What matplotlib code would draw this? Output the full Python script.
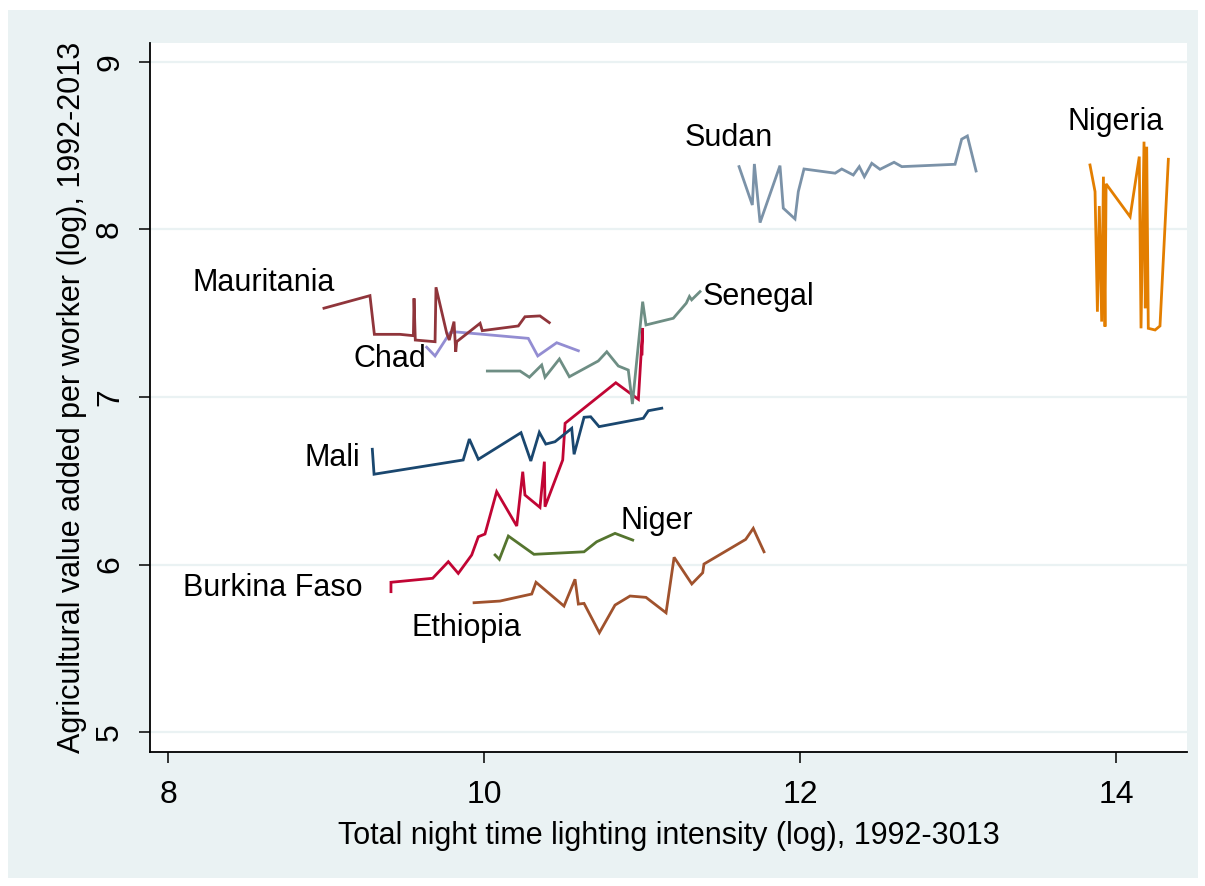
import matplotlib
matplotlib.use("Agg")
import matplotlib.pyplot as plt
from matplotlib.patches import Rectangle

plt.rcParams["font.family"] = ["Liberation Sans", "DejaVu Sans"]

BG = "#EAF2F3"

# series: (log lights, log ag value added per worker)
mauritania_x = [8.987, 9.278, 9.306, 9.468, 9.553, 9.557, 9.565, 9.690, 9.696, 9.764,
                9.780, 9.810, 9.821, 9.827, 9.975, 9.989, 10.217, 10.259, 10.354, 10.413]
mauritania_y = [7.530, 7.605, 7.374, 7.374, 7.366, 7.589, 7.340, 7.330, 7.655, 7.380,
                7.340, 7.450, 7.270, 7.330, 7.440, 7.396, 7.424, 7.479, 7.484, 7.444]

chad_x = [9.637, 9.690, 9.785, 9.827, 10.280, 10.340, 10.460, 10.597]
chad_y = [7.297, 7.245, 7.384, 7.388, 7.350, 7.245, 7.324, 7.276]

senegal_x = [10.021, 10.228, 10.287, 10.365, 10.386, 10.477, 10.540, 10.723, 10.777,
             10.850, 10.913, 10.939, 11.004, 11.025, 11.198, 11.280, 11.300, 11.314, 11.367]
senegal_y = [7.155, 7.155, 7.118, 7.191, 7.118, 7.227, 7.121, 7.215, 7.270,
             7.185, 7.161, 6.958, 7.569, 7.430, 7.470, 7.560, 7.600, 7.580, 7.629]

burkina_x = [9.411, 9.411, 9.675, 9.774, 9.837, 9.922, 9.964, 10.006, 10.080, 10.207,
             10.245, 10.259, 10.354, 10.382, 10.386, 10.498, 10.513, 10.834, 10.977,
             11.004, 11.000]
burkina_y = [5.838, 5.894, 5.918, 6.017, 5.947, 6.057, 6.166, 6.182, 6.435, 6.230,
             6.554, 6.415, 6.341, 6.614, 6.345, 6.624, 6.843, 7.085, 6.986,
             7.412, 7.257]

mali_x = [9.293, 9.304, 9.868, 9.907, 9.964, 10.234, 10.296, 10.350, 10.391, 10.449,
          10.555, 10.570, 10.633, 10.675, 10.728, 11.008, 11.040, 11.125]
mali_y = [6.688, 6.539, 6.624, 6.749, 6.628, 6.787, 6.618, 6.789, 6.719, 6.733,
          6.813, 6.658, 6.879, 6.882, 6.823, 6.873, 6.918, 6.933]

niger_x = [10.070, 10.097, 10.154, 10.316, 10.633, 10.713, 10.829, 10.941]
niger_y = [6.057, 6.031, 6.170, 6.061, 6.076, 6.136, 6.186, 6.146]

ethiopia_x = [9.937, 10.101, 10.302, 10.329, 10.506, 10.576, 10.597, 10.633, 10.730,
              10.829, 10.924, 11.025, 11.152, 11.203, 11.315, 11.384, 11.392, 11.656,
              11.704, 11.726, 11.772]
ethiopia_y = [5.772, 5.782, 5.824, 5.894, 5.752, 5.912, 5.764, 5.768, 5.593,
              5.758, 5.812, 5.804, 5.712, 6.043, 5.884, 5.951, 6.003, 6.150,
              6.216, 6.170, 6.076]

sudan_x = [11.614, 11.698, 11.711, 11.747, 11.873, 11.894, 11.968, 11.989, 12.025,
           12.222, 12.264, 12.337, 12.375, 12.407, 12.454, 12.506, 12.595, 12.644,
           12.981, 13.023, 13.059, 13.114]
sudan_y = [8.375, 8.146, 8.391, 8.041, 8.381, 8.127, 8.063, 8.226, 8.361,
           8.336, 8.361, 8.325, 8.375, 8.315, 8.395, 8.359, 8.401, 8.375,
           8.389, 8.539, 8.558, 8.349]

nigeria_x = [13.835, 13.867, 13.882, 13.894, 13.909, 13.920, 13.930, 13.937, 14.089,
             14.147, 14.158, 14.177, 14.185, 14.194, 14.204, 14.247, 14.278, 14.331]
nigeria_y = [8.385, 8.226, 7.509, 8.140, 7.450, 8.315, 7.420, 8.272, 8.076,
             8.435, 7.410, 8.524, 7.530, 8.494, 7.410, 7.400, 7.424, 8.419]

series = [
    (burkina_x, burkina_y, "#C10534"),
    (chad_x, chad_y, "#938DD2"),
    (ethiopia_x, ethiopia_y, "#A0522D"),
    (mali_x, mali_y, "#1A476F"),
    (mauritania_x, mauritania_y, "#90353B"),
    (niger_x, niger_y, "#55752F"),
    (nigeria_x, nigeria_y, "#E37E00"),
    (senegal_x, senegal_y, "#6E8E84"),
    (sudan_x, sudan_y, "#7B92A8"),
]

# country name, label anchor (left edge, vertical centre)
label_names = ["Sudan", "Nigeria", "Mauritania", "Senegal", "Chad",
               "Mali", "Niger", "Burkina Faso", "Ethiopia"]
label_x = [11.272, 13.690, 8.158, 11.386, 9.171, 8.861, 10.861, 8.095, 9.544]
label_y = [8.546, 8.642, 7.681, 7.597, 7.227, 6.636, 6.260, 5.860, 5.621]

fig = plt.figure(figsize=(12.05, 8.86), dpi=100)
fig.patch.set_facecolor("white")
# the light bluish-grey graph region, with a thin white frame round it
fig.patches.append(Rectangle((8 / 1205, 8 / 886), 1190 / 1205, 868 / 886,
                             transform=fig.transFigure, facecolor=BG,
                             edgecolor="none", zorder=-10))

ax = fig.add_axes([150 / 1205, 1 - 752 / 886, 1037 / 1205, 709 / 886])
ax.set_facecolor("white")

for x, y, c in series:
    ax.plot(x, y, color=c, lw=2.0, solid_joinstyle="miter", zorder=3)

for name, lx, ly in zip(label_names, label_x, label_y):
    ax.text(lx, ly, name, ha="left", va="center", fontsize=22, color="black")

ax.set_xlim(7.886, 14.449)
ax.set_ylim(4.881, 9.113)
ax.set_xticks([8, 10, 12, 14])
ax.set_yticks([5, 6, 7, 8, 9])
for yy in [5, 6, 7, 8, 9]:
    ax.axhline(yy, color=BG, lw=1.6, zorder=1)

for s in ["top", "right"]:
    ax.spines[s].set_visible(False)
for s in ["left", "bottom"]:
    ax.spines[s].set_linewidth(1.3)

ax.tick_params(length=8, width=1.1, labelsize=23)
ax.tick_params(axis="x", pad=12)
ax.tick_params(axis="y", pad=10)
for t in ax.get_yticklabels():
    t.set_rotation(90)
    t.set_va("center")

ax.set_xlabel("Total night time lighting intensity (log), 1992-3013",
              fontsize=22, labelpad=8)
ax.set_ylabel("Agricultural value added per worker (log), 1992-2013",
              fontsize=22, labelpad=6)

fig.savefig("out.png", dpi=100, facecolor=fig.get_facecolor())
